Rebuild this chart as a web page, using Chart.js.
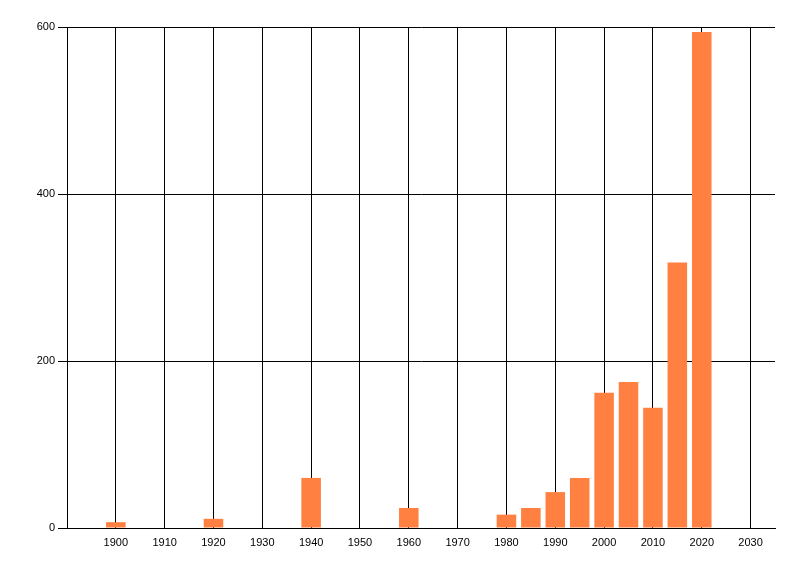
<!DOCTYPE html>
<html>
<head>
<meta charset="utf-8">
<script src="https://cdn.jsdelivr.net/npm/chart.js@4/dist/chart.umd.min.js"></script>
<style>
html,body{margin:0;padding:0;background:#fff;}
#wrap{width:800px;height:576px;position:relative;}
</style>
</head>
<body>
<div id="wrap"><canvas id="c"></canvas></div>
<script>
const years = [1900, 1920, 1940, 1960, 1980, 1985, 1990, 1995, 2000, 2005, 2010, 2015, 2020];
const counts = [7, 11, 60, 24, 16, 24, 43, 60, 162, 175, 144, 318, 594];
const xTickValues = [1900, 1910, 1920, 1930, 1940, 1950, 1960, 1970, 1980, 1990, 2000, 2010, 2020, 2030];
const yTickValues = [0, 200, 400, 600];

const font = {family: '"Liberation Sans", Arial, sans-serif', size: 11};

new Chart(document.getElementById('c'), {
  type: 'bar',
  data: {
    datasets: [{
      data: years.map((y, i) => ({x: y, y: counts[i]})),
      backgroundColor: 'rgb(255,128,64)',
      borderWidth: 0,
      barPercentage: 0.8,
      categoryPercentage: 1.0
    }]
  },
  options: {
    responsive: true,
    maintainAspectRatio: false,
    animation: false,
    layout: {padding: {left: 0, right: 25, top: 27, bottom: 0}},
    plugins: {legend: {display: false}, tooltip: {enabled: false}},
    scales: {
      x: {
        type: 'linear',
        min: 1890,
        max: 2035,
        offset: false,
        afterBuildTicks: s => { s.ticks = xTickValues.map(v => ({value: v})); },
        afterFit: s => { s.height = 48; },
        grid: {color: '#000', lineWidth: 1, drawTicks: false, offset: false},
        border: {display: true, color: '#000', width: 1},
        ticks: {color: '#000', font: font, padding: 8, maxRotation: 0, autoSkip: false,
          callback: v => String(v)}
      },
      y: {
        min: 0,
        max: 600,
        afterBuildTicks: s => { s.ticks = yTickValues.map(v => ({value: v})); },
        afterFit: s => { s.width = 67; },
        grid: {color: '#000', lineWidth: 1, drawTicks: true, tickLength: 9},
        border: {display: true, color: '#000', width: 1},
        ticks: {color: '#000', font: font, padding: 3}
      }
    }
  }
});
</script>
</body>
</html>
